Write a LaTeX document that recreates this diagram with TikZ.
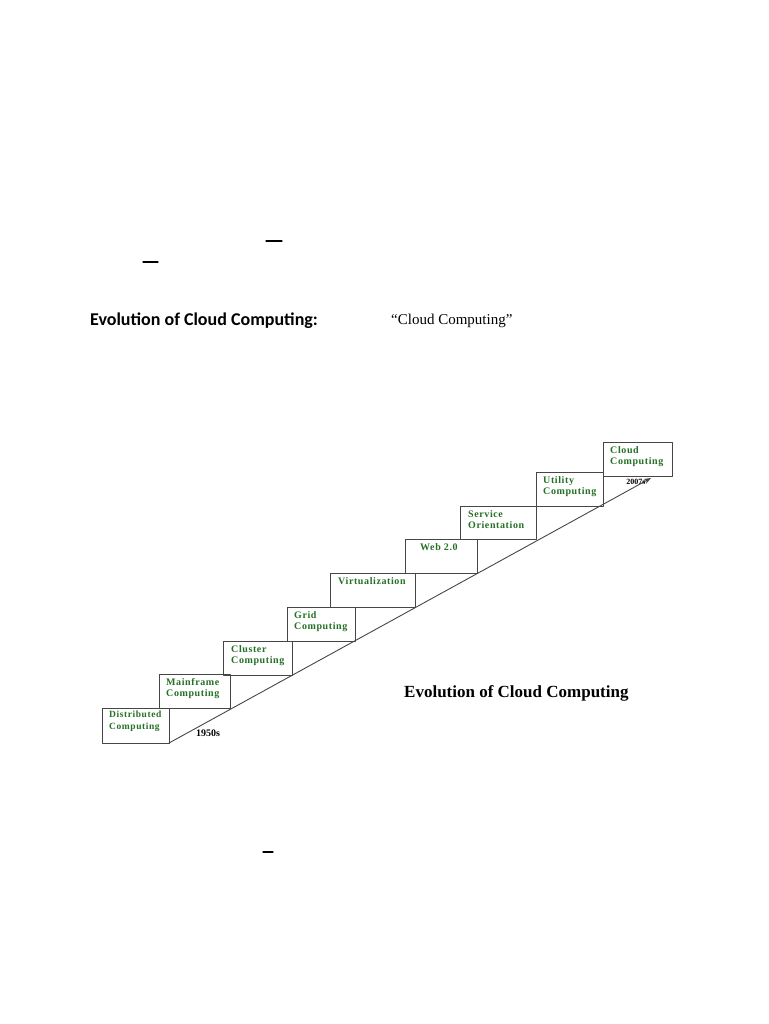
\documentclass[tikz,border=0pt]{standalone}
\usepackage{fontspec}
\setmainfont{Liberation Serif}
\newfontfamily\headfont{Carlito}
\newfontfamily\stepfont[LetterSpace=6]{Liberation Serif}
\usetikzlibrary{arrows.meta}
\definecolor{stepgreen}{RGB}{36,112,36}
\definecolor{stepline}{RGB}{70,70,70}
\tikzset{
  stepbox/.style={draw=stepline, line width=1pt, inner sep=0pt, outer sep=0pt, anchor=north west},
  steplbl/.style={anchor=north west, inner sep=0pt, align=left, text=stepgreen,
    font=\stepfont\fontsize{10}{11.5}\selectfont\bfseries},
  yearlbl/.style={inner sep=0pt, font=\fontsize{10}{12}\selectfont\bfseries}
}
\begin{document}
\begin{tikzpicture}[x=1pt, y=-1pt, line join=round, line cap=round, >=Stealth]
\useasboundingbox (0,0) rectangle (768,1024);
% stray dashes of the page text
\draw[line width=1.1pt] (266,241) -- (282,241);
\draw[line width=1.1pt] (143,262) -- (158,262);
\draw[line width=1.1pt] (263,852) -- (273,852);
% headings
\node[anchor=base west, inner sep=0pt, font=\headfont\fontsize{18}{20}\selectfont\bfseries] (head) at (90,325) {Evolution of Cloud Computing:};
\node[anchor=base west, inner sep=0pt, font=\fontsize{15}{17}\selectfont] (quote) at (391,324) {``Cloud Computing''};
% steps
\node[stepbox, minimum width=67, minimum height=35] (dist) at (102,708) {};
\node[stepbox, minimum width=71, minimum height=34] (main) at (159,674) {};
\node[stepbox, minimum width=69, minimum height=34] (clus) at (223,641) {};
\node[stepbox, minimum width=68, minimum height=34] (grid) at (287,607) {};
\node[stepbox, minimum width=85, minimum height=34] (virt) at (330,573) {};
\node[stepbox, minimum width=72, minimum height=34] (web) at (405,539) {};
\node[stepbox, minimum width=76, minimum height=33] (serv) at (460,506) {};
\node[stepbox, minimum width=67, minimum height=34] (util) at (536,472) {};
\node[stepbox, minimum width=69, minimum height=34] (cloud) at (603,442) {};
\node[steplbl, font=\stepfont\fontsize{9.5}{11.5}\selectfont\bfseries] at ([shift={(7,3)}]dist.north west) {Distributed\\Computing};
\node[steplbl] at ([shift={(7,4)}]main.north west) {Mainframe\\Computing};
\node[steplbl] at ([shift={(8,4)}]clus.north west) {Cluster\\Computing};
\node[steplbl] at ([shift={(7,4)}]grid.north west) {Grid\\Computing};
\node[steplbl] at ([shift={(8,4)}]virt.north west) {Virtualization};
\node[steplbl] at ([shift={(15,4)}]web.north west) {Web 2.0};
\node[steplbl] at ([shift={(8,4)}]serv.north west) {Service\\Orientation};
\node[steplbl] at ([shift={(7,4)}]util.north west) {Utility\\Computing};
\node[steplbl] at ([shift={(7,4)}]cloud.north west) {Cloud\\Computing};
% time line
\coordinate (tend) at (651,478);
\draw[->, stepline, line width=0.9pt] (dist.south east) -- (tend);
\node[yearlbl] (y1950) at (208,733) {1950s};
\node[yearlbl, font=\fontsize{8}{10}\selectfont\bfseries] (y2007) at (636,482) {2007s};
% caption
\node[anchor=base west, inner sep=0pt, font=\fontsize{17}{19}\selectfont\bfseries] (cap) at (404,697) {Evolution of Cloud Computing};
\end{tikzpicture}
\end{document}
